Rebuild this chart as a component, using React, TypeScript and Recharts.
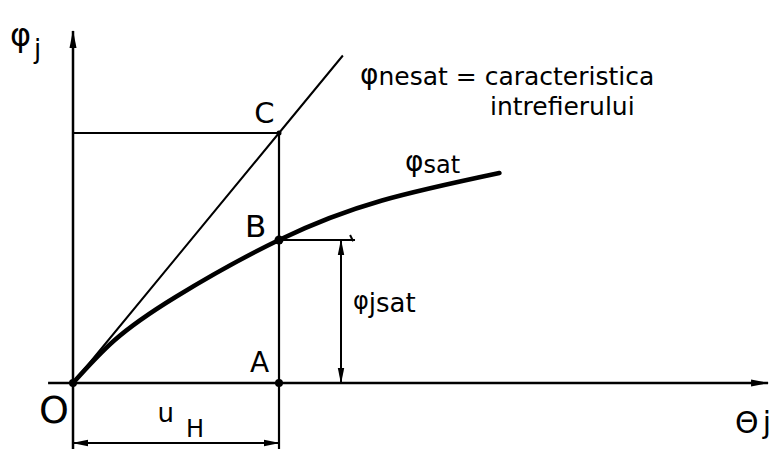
import React from "react";
import {
  ComposedChart,
  Line,
  XAxis,
  YAxis,
  ReferenceLine,
  ReferenceDot,
} from "recharts";

// Saturated magnetisation curve  Φsat(Θj), with u_H taken as the unit of Θj
const satTheta = [0, 0.2, 0.5, 1, 1.5, 2.07];
const satPhi = [0, 0.17, 0.345, 0.572, 0.73, 0.84];

// Unsaturated (air-gap) characteristic: a straight line through O and C
const nesatTheta = [0, 1, 1.31];
const nesatPhi = [0, 1, 1.31];

// Operating points
const uH = 1; // abscissa of A, B, C
const phiC = 1;
const phiB = 0.572;

// Visible window in data units
const thetaDomain = [-0.3544, 3.3835];
const phiDomain = [-0.264, 1.532];

const satData = satTheta.map((x, i) => ({ x, y: satPhi[i] }));
const nesatData = nesatTheta.map((x, i) => ({ x, y: nesatPhi[i] }));

const FONT = "'DejaVu Sans', 'Liberation Sans', sans-serif";
const INK = "#000";

type Seg = [{ x: number; y: number }, { x: number; y: number }];

const plainLine = (w: number, start?: string, end?: string) => (p: any) => (
  <line
    x1={p.x1}
    y1={p.y1}
    x2={p.x2}
    y2={p.y2}
    stroke={INK}
    strokeWidth={w}
    markerStart={start ? `url(#${start})` : undefined}
    markerEnd={end ? `url(#${end})` : undefined}
  />
);

const textAt =
  (content: React.ReactNode, size: number) =>
  (p: any) => (
    <text
      x={p.cx}
      y={p.cy}
      fontFamily={FONT}
      fontSize={size}
      fill={INK}
      textAnchor="start"
    >
      {content}
    </text>
  );

const dotShape = (r: number) => (p: any) => <circle cx={p.cx} cy={p.cy} r={r} fill={INK} />;

export default function App() {
  const seg = (a: [number, number], b: [number, number]): Seg => [
    { x: a[0], y: a[1] },
    { x: b[0], y: b[1] },
  ];

  return (
    <div style={{ position: "absolute", left: 0, top: 0, width: 770, height: 449, background: "#fff" }}>
      <svg width={0} height={0} style={{ position: "absolute" }}>
        <defs>
          <marker
            id="arrowHead"
            markerUnits="userSpaceOnUse"
            markerWidth={16}
            markerHeight={8}
            refX={15}
            refY={4}
            orient="auto-start-reverse"
          >
            <path d="M0,0.8 L16,4 L0,7.2 Z" fill={INK} />
          </marker>
          <marker
            id="axisHead"
            markerUnits="userSpaceOnUse"
            markerWidth={18}
            markerHeight={8}
            refX={17}
            refY={4}
            orient="auto"
          >
            <path d="M0,0.5 L18,4 L0,7.5 Z" fill={INK} />
          </marker>
        </defs>
      </svg>
      <ComposedChart
        width={770}
        height={449}
        margin={{ top: 0, right: 0, bottom: 0, left: 0 }}
      >
        <XAxis
          type="number"
          dataKey="x"
          domain={thetaDomain}
          allowDataOverflow
          hide
        />
        <YAxis type="number" dataKey="y" domain={phiDomain} allowDataOverflow hide />

        {/* axes */}
        <ReferenceLine
          segment={seg([0, phiDomain[0]], [0, 1.408])}
          ifOverflow="visible"
          shape={plainLine(2.5, undefined, "axisHead")}
        />
        <ReferenceLine
          segment={seg([-0.121, 0], [3.374, 0])}
          ifOverflow="visible"
          shape={plainLine(2.5, undefined, "axisHead")}
        />

        {/* construction lines through A, B, C */}
        <ReferenceLine
          segment={seg([uH, phiDomain[0]], [uH, phiC])}
          ifOverflow="visible"
          shape={plainLine(2.2)}
        />
        <ReferenceLine
          segment={seg([0, phiC], [uH, phiC])}
          ifOverflow="visible"
          shape={plainLine(2.2)}
        />
        <ReferenceLine
          segment={seg([uH, phiB], [1.369, phiB])}
          ifOverflow="visible"
          shape={plainLine(2)}
        />
        <ReferenceLine
          segment={seg([1.345, phiB + 0.02], [1.36, phiB - 0.005])}
          ifOverflow="visible"
          shape={plainLine(2)}
        />

        {/* dimension lines */}
        <ReferenceLine
          segment={seg([0, -0.24], [uH, -0.24])}
          ifOverflow="visible"
          shape={plainLine(2, "arrowHead", "arrowHead")}
        />
        <ReferenceLine
          segment={seg([1.301, 0], [1.301, phiB])}
          ifOverflow="visible"
          shape={plainLine(2, "arrowHead", "arrowHead")}
        />

        {/* characteristics */}
        <Line
          data={nesatData}
          dataKey="y"
          type="linear"
          stroke={INK}
          strokeWidth={2}
          dot={false}
          activeDot={false}
          isAnimationActive={false}
        />
        <Line
          data={satData}
          dataKey="y"
          type="natural"
          stroke={INK}
          strokeWidth={4.5}
          strokeLinecap="round"
          dot={false}
          activeDot={false}
          isAnimationActive={false}
        />

        {/* nodes */}
        <ReferenceDot x={0} y={0} ifOverflow="visible" shape={dotShape(4)} />
        <ReferenceDot x={uH} y={0} ifOverflow="visible" shape={dotShape(4)} />
        <ReferenceDot x={uH} y={phiB} ifOverflow="visible" shape={dotShape(4.5)} />
        <ReferenceDot x={uH} y={phiC} ifOverflow="visible" shape={dotShape(2.5)} />

        {/* lettering */}
        <ReferenceDot
          x={-0.306}
          y={1.35}
          ifOverflow="visible"
          shape={textAt(
            <>
              <tspan>φ</tspan>
              <tspan fontSize={26} dx={3} dy={12}>j</tspan>
            </>,
            32
          )}
        />
        <ReferenceDot x={0.88} y={1.04} ifOverflow="visible" shape={textAt("C", 29)} />
        <ReferenceDot x={0.835} y={0.584} ifOverflow="visible" shape={textAt("B", 31)} />
        <ReferenceDot x={0.859} y={0.044} ifOverflow="visible" shape={textAt("A", 28)} />
        <ReferenceDot x={-0.165} y={-0.16} ifOverflow="visible" shape={textAt("O", 38)} />
        <ReferenceDot
          x={0.41}
          y={-0.156}
          ifOverflow="visible"
          shape={textAt(
            <>
              <tspan>u</tspan>
              <tspan fontSize={24} dx={12} dy={15}>H</tspan>
            </>,
            26
          )}
        />
        <ReferenceDot
          x={3.214}
          y={-0.2}
          ifOverflow="visible"
          shape={textAt(
            <>
              <tspan>Θ</tspan>
              <tspan dx={4}>j</tspan>
            </>,
            30
          )}
        />
        <ReferenceDot
          x={1.393}
          y={1.192}
          ifOverflow="visible"
          shape={textAt(
            <>
              <tspan fontSize={28} dy={-1}>φ</tspan>
              <tspan dy={1}>nesat = caracteristica</tspan>
            </>,
            25
          )}
        />
        <ReferenceDot x={2.024} y={1.072} ifOverflow="visible" shape={textAt("intrefierului", 25)} />
        <ReferenceDot
          x={1.612}
          y={0.84}
          ifOverflow="visible"
          shape={textAt(
            <>
              <tspan fontSize={28} dy={-2}>φ</tspan>
              <tspan dy={2}>sat</tspan>
            </>,
            24
          )}
        />
        <ReferenceDot
          x={1.359}
          y={0.284}
          ifOverflow="visible"
          shape={textAt(
            <>
              <tspan fontSize={24} dy={-3}>φ</tspan>
              <tspan dy={3}>jsat</tspan>
            </>,
            26
          )}
        />
      </ComposedChart>
    </div>
  );
}
